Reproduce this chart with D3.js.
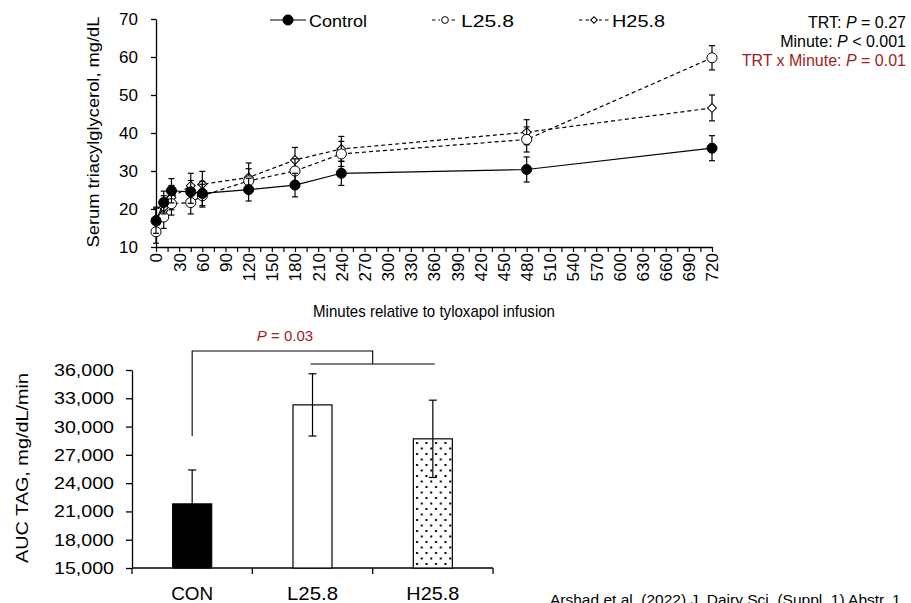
<!DOCTYPE html>
<html>
<head>
<meta charset="utf-8">
<script src="https://cdn.jsdelivr.net/npm/d3@7"></script>
<style>
  body { margin: 0; background: #fff; }
  svg { font-family: "Liberation Sans", Arial, sans-serif; display: block; }
</style>
</head>
<body>
<svg id="fig" width="911" height="603"></svg>
<script>
// données
const minutes = [0, 10, 20, 45, 60, 120, 180, 240, 480, 720];
const controlVals = [16.9, 21.7, 24.8, 24.5, 24.1, 25.1, 26.3, 29.4, 30.4, 36.0];
const controlSe   = [3.3, 3.0, 3.2, 3.0, 3.2, 3.0, 3.1, 3.2, 3.3, 3.3];
const lowVals  = [14.0, 17.9, 21.4, 21.7, 23.5, 27.4, 30.0, 34.5, 38.3, 59.8];
const lowSe    = [3.0, 3.0, 3.0, 3.0, 3.0, 3.2, 3.2, 3.3, 3.3, 3.2];
const highVals = [17.3, 20.4, 23.0, 26.1, 26.5, 28.3, 32.9, 35.8, 40.2, 46.6];
const highSe   = [3.2, 3.1, 3.2, 3.3, 3.4, 3.8, 3.3, 3.3, 3.3, 3.4];
const minuteTicks = d3.range(0, 721, 15);
const tagTicks = [10, 20, 30, 40, 50, 60, 70];

const aucGroups = ["CON", "L25.8", "H25.8"];
const aucVals = [21800, 32300, 28700];
const aucSe = [3600, 3300, 4100];
const aucTicks = [15000, 18000, 21000, 24000, 27000, 30000, 33000, 36000];

const statLines = [
  { label: "TRT: ", p: "= 0.27", red: false },
  { label: "Minute: ", p: "< 0.001", red: false },
  { label: "TRT x Minute: ", p: "= 0.01", red: true }
];

const red = "#A01D22";
const svg = d3.select("#fig");

//------ graphique du haut (courbes)
const x = d3.scaleLinear().domain([0, 720]).range([156, 712]);
const y = d3.scaleLinear().domain([10, 70]).range([247, 19]);

// axe y
const yAx = svg.append("g")
  .attr("transform", "translate(156,0)")
  .call(d3.axisLeft(y).tickValues(tagTicks).tickSize(5).tickSizeOuter(0).tickPadding(13));
yAx.selectAll("text").style("font-size", "17px").attr("fill", "#000");
yAx.select(".domain").attr("stroke", "#000").attr("stroke-width", 1.3);
yAx.selectAll(".tick line").attr("stroke", "#000").attr("stroke-width", 1.3);

// axe x
const xAx = svg.append("g")
  .attr("transform", "translate(0,247)")
  .call(d3.axisBottom(x).tickValues(minuteTicks).tickSize(5).tickSizeOuter(0)
    .tickFormat(d => d % 30 === 0 ? d : ""));
xAx.select(".domain").attr("stroke", "#000").attr("stroke-width", 1.3);
xAx.selectAll(".tick line").attr("stroke", "#000").attr("stroke-width", 1.2);
xAx.selectAll("text")
  .style("font-size", "17px")
  .attr("fill", "#000")
  .attr("transform", "rotate(-90)")
  .attr("x", -6)
  .attr("y", 0)
  .attr("dy", "0.35em")
  .style("text-anchor", "end");

svg.append("text")
  .attr("transform", "translate(99,132) rotate(-90)")
  .attr("text-anchor", "middle")
  .style("font-size", "17px")
  .attr("textLength", 231).attr("lengthAdjust", "spacingAndGlyphs")
  .text("Serum triacylglycerol, mg/dL");

svg.append("text")
  .attr("x", 434).attr("y", 317)
  .attr("text-anchor", "middle")
  .style("font-size", "17px")
  .attr("textLength", 242).attr("lengthAdjust", "spacingAndGlyphs")
  .text("Minutes relative to tyloxapol infusion");

const series = [
  { name: "Control", vals: controlVals, se: controlSe, dash: null, shape: "circle", fill: "#000" },
  { name: "L25.8", vals: lowVals, se: lowSe, dash: "4,3", shape: "circle", fill: "#fff" },
  { name: "H25.8", vals: highVals, se: highSe, dash: "4,3", shape: "diamond", fill: "#fff" }
];

const line = d3.line().x(d => x(d.m)).y(d => y(d.v));
const marker = (s, big) => s.shape === "circle"
  ? d3.symbol().type(d3.symbolCircle).size(big ? 80 : 36)()
  : d3.symbol().type(d3.symbolSquare).size(big ? 40 : 22)();

// H25.8 d'abord, Control dessus
series.slice().reverse().forEach(s => {
  const pts = minutes.map((m, i) => ({ m: m, v: s.vals[i], e: s.se[i] }));
  const g = svg.append("g");
  const eb = g.selectAll(".eb").data(pts).enter().append("g");
  eb.append("line").attr("x1", d => x(d.m)).attr("x2", d => x(d.m))
    .attr("y1", d => y(d.v + d.e)).attr("y2", d => y(d.v - d.e));
  eb.append("line").attr("x1", d => x(d.m) - 3).attr("x2", d => x(d.m) + 3)
    .attr("y1", d => y(d.v + d.e)).attr("y2", d => y(d.v + d.e));
  eb.append("line").attr("x1", d => x(d.m) - 3).attr("x2", d => x(d.m) + 3)
    .attr("y1", d => y(d.v - d.e)).attr("y2", d => y(d.v - d.e));
  eb.selectAll("line").attr("stroke", "#000").attr("stroke-width", 1.2);
  g.append("path").datum(pts)
    .attr("d", line)
    .attr("fill", "none")
    .attr("stroke", "#000")
    .attr("stroke-width", 1.2)
    .attr("stroke-dasharray", s.dash);
  g.selectAll(".pt").data(pts).enter().append("path")
    .attr("transform", d => `translate(${x(d.m)},${y(d.v)})` + (s.shape === "diamond" ? " rotate(45)" : ""))
    .attr("d", marker(s, true))
    .attr("fill", s.fill)
    .attr("stroke", "#000")
    .attr("stroke-width", 1);
});

// légende
const legX = [270, 432, 579];
const legLen = [36, 26, 30];
const legText = [58, 53, 53];
series.forEach((s, i) => {
  const lg = svg.append("g").attr("transform", `translate(${legX[i]},20)`);
  lg.append("line").attr("x1", 0).attr("x2", legLen[i]).attr("y1", 0).attr("y2", 0)
    .attr("stroke", "#000").attr("stroke-width", 1.2).attr("stroke-dasharray", i === 0 ? null : "3.5,3");
  lg.append("rect").attr("x", legLen[i] / 2 - 5).attr("y", -5).attr("width", 10).attr("height", 10)
    .attr("fill", "#fff").attr("visibility", i === 0 ? "hidden" : null);
  lg.append("path")
    .attr("transform", `translate(${legLen[i] / 2},0)` + (s.shape === "diamond" ? " rotate(45)" : ""))
    .attr("d", i === 0 ? d3.symbol().type(d3.symbolCircle).size(80)() : marker(s, false))
    .attr("fill", s.fill).attr("stroke", "#000").attr("stroke-width", 1);
  lg.append("text").attr("x", legLen[i] + 3).attr("y", 6.5)
    .style("font-size", "16.5px")
    .attr("textLength", legText[i]).attr("lengthAdjust", "spacingAndGlyphs")
    .text(s.name);
});

// statistiques
statLines.forEach((l, i) => {
  const t = svg.append("text")
    .attr("x", 906).attr("y", 28 + i * 19.2)
    .attr("text-anchor", "end")
    .style("font-size", "16px")
    .attr("fill", l.red ? red : "#000");
  t.append("tspan").text(l.label);
  t.append("tspan").style("font-style", "italic").text("P");
  t.append("tspan").text(" " + l.p);
});

//------ graphique du bas (AUC)
const xb = d3.scaleBand().domain(aucGroups).range([132, 493]).padding(0);
const yb = d3.scaleLinear().domain([15000, 36000]).range([568, 370]);
const barW = 39;

const defs = svg.append("defs");
const pat = defs.append("pattern").attr("id", "dots")
  .attr("patternUnits", "userSpaceOnUse").attr("width", 9.5).attr("height", 11)
  .attr("x", 414);
pat.append("rect").attr("width", 9.5).attr("height", 11).attr("fill", "#fff");
pat.append("rect").attr("x", 2).attr("y", 2).attr("width", 2).attr("height", 2).attr("fill", "#000");
pat.append("rect").attr("x", 6.75).attr("y", 7.5).attr("width", 2).attr("height", 2).attr("fill", "#000");

const barFill = ["#000", "#fff", "url(#dots)"];
const catWidth = [42, 51, 53];

const ybAx = svg.append("g")
  .attr("transform", "translate(132,0)")
  .call(d3.axisLeft(yb).tickValues(aucTicks).tickSize(6).tickSizeOuter(0).tickPadding(12)
    .tickFormat(d3.format(",")));
ybAx.selectAll("text").style("font-size", "17px").attr("fill", "#000")
  .attr("textLength", 60).attr("lengthAdjust", "spacingAndGlyphs");
ybAx.select(".domain").attr("stroke", "#000").attr("stroke-width", 1.3);
ybAx.selectAll(".tick line").attr("stroke", "#000").attr("stroke-width", 1.3);

// axe des catégories avec graduations aux bords des bandes
const edges = aucGroups.map(d => xb(d)).concat([xb.range()[1]]);
svg.append("line").attr("x1", 132).attr("x2", 493).attr("y1", 568).attr("y2", 568)
  .attr("stroke", "#000").attr("stroke-width", 1.3);
svg.selectAll(".btick").data(edges).enter().append("line")
  .attr("x1", d => d).attr("x2", d => d)
  .attr("y1", 568).attr("y2", 574)
  .attr("stroke", "#000").attr("stroke-width", 1.3);
svg.selectAll(".blab").data(aucGroups).enter().append("text")
  .attr("x", d => xb(d) + xb.bandwidth() / 2)
  .attr("y", 600)
  .attr("text-anchor", "middle")
  .style("font-size", "18.5px")
  .attr("textLength", (d, i) => catWidth[i]).attr("lengthAdjust", "spacingAndGlyphs")
  .text(d => d);

svg.selectAll(".bar").data(aucGroups).enter().append("rect")
  .attr("x", d => xb(d) + (xb.bandwidth() - barW) / 2)
  .attr("width", barW)
  .attr("y", (d, i) => yb(aucVals[i]))
  .attr("height", (d, i) => yb(15000) - yb(aucVals[i]))
  .attr("fill", (d, i) => barFill[i])
  .attr("stroke", "#000")
  .attr("stroke-width", 1.2);

// erreurs des barres (CON seulement vers le haut)
aucGroups.forEach((g, i) => {
  const cx = xb(g) + xb.bandwidth() / 2;
  const lo = i === 0 ? aucVals[i] : aucVals[i] - aucSe[i];
  const hi = aucVals[i] + aucSe[i];
  svg.append("line").attr("x1", cx).attr("x2", cx).attr("y1", yb(hi)).attr("y2", yb(lo))
    .attr("stroke", "#000").attr("stroke-width", 1.2);
  svg.append("line").attr("x1", cx - 4).attr("x2", cx + 4).attr("y1", yb(hi)).attr("y2", yb(hi))
    .attr("stroke", "#000").attr("stroke-width", 1.2);
  if (i > 0) {
    svg.append("line").attr("x1", cx - 4).attr("x2", cx + 4).attr("y1", yb(lo)).attr("y2", yb(lo))
      .attr("stroke", "#000").attr("stroke-width", 1.2);
  }
});

svg.append("text")
  .attr("transform", "translate(28,468) rotate(-90)")
  .attr("text-anchor", "middle")
  .style("font-size", "17px")
  .attr("textLength", 190).attr("lengthAdjust", "spacingAndGlyphs")
  .text("AUC TAG, mg/dL/min");

// crochet de comparaison
const cCon = xb("CON") + xb.bandwidth() / 2;
const cL = xb("L25.8") + xb.bandwidth() / 2;
const cH = xb("H25.8") + xb.bandwidth() / 2;
const mid = (cL + cH) / 2;
svg.append("path")
  .attr("d", `M${cCon},${yb(29000)} V351 H${mid} V364`)
  .attr("fill", "none").attr("stroke", "#000").attr("stroke-width", 1.1);
svg.append("line").attr("x1", cL - 2).attr("x2", cH + 2).attr("y1", 364).attr("y2", 364)
  .attr("stroke", "#000").attr("stroke-width", 1.1);
const pt = svg.append("text").attr("x", 285).attr("y", 341).attr("text-anchor", "middle")
  .style("font-size", "15px").attr("fill", red);
pt.append("tspan").style("font-style", "italic").text("P");
pt.append("tspan").text(" = 0.03");

svg.append("text").attr("x", 550).attr("y", 605)
  .style("font-size", "15.5px")
  .text("Arshad et al. (2022) J. Dairy Sci. (Suppl. 1) Abstr. 1");
</script>
</body>
</html>
